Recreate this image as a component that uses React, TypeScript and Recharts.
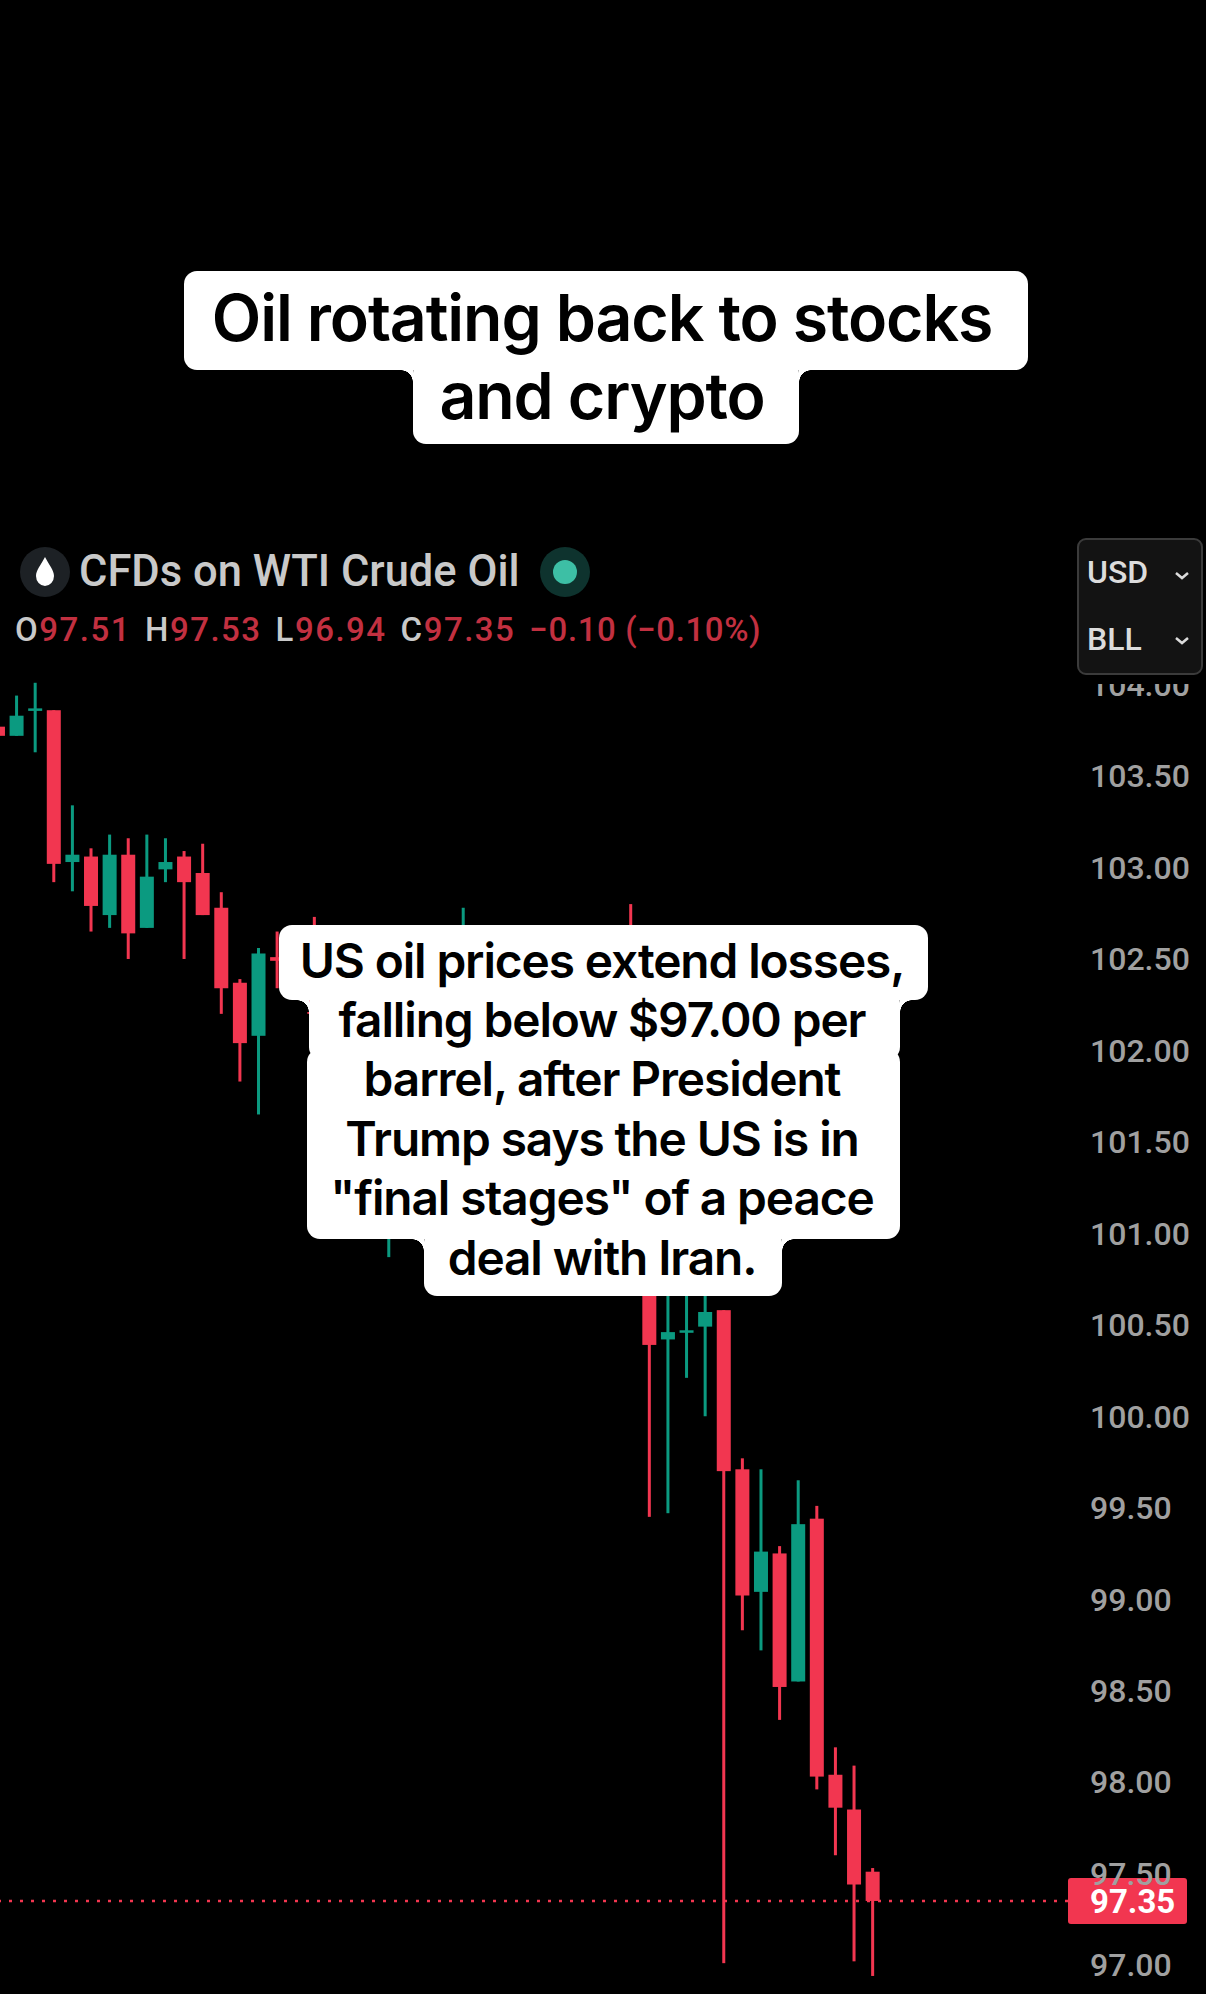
import { Bar, ComposedChart, ReferenceLine, XAxis, YAxis } from 'recharts';

// Candles 16-33 sit behind the caption; only those with a visible wick have values.
const opens = [103.77, 103.72, 103.86, 103.86, 103.03, 103.06, 102.74, 103.07, 102.67, 102.99, 103.06, 102.97, 102.78, 102.37, 102.08, 102.51, null, 102.35, null, null, null, 101.4, null, null, null, 101.7, null, null, null, null, null, null, null, null, 101.9, 101.1, 100.42, 100.46, 100.49, 100.58, 99.71, 99.04, 99.25, 98.55, 99.44, 98.04, 97.85, 97.51];
const highs = [103.78, 103.94, 104.01, 103.86, 103.34, 103.105, 103.18, 103.16, 103.18, 103.16, 103.09, 103.13, 102.865, 102.39, 102.56, 102.65, null, 102.73, null, null, null, 101.9, null, null, null, 102.78, null, null, null, null, null, null, null, null, 102.8, 101.2, 100.9, 100.85, 100.8, 100.58, 99.77, 99.71, 99.29, 99.65, 99.51, 98.19, 98.09, 97.53];
const lows = [103.71, 103.72, 103.63, 102.92, 102.87, 102.65, 102.67, 102.5, 102.67, 102.92, 102.5, 102.74, 102.2, 101.83, 101.65, 102.34, null, 101.9, null, null, null, 100.87, null, null, null, 101.4, null, null, null, null, null, null, null, null, 101.3, 99.45, 99.47, 100.21, 100.0, 97.01, 98.83, 98.72, 98.34, 98.55, 97.96, 97.6, 97.02, 96.94];
const closes = [103.72, 103.83, 103.87, 103.02, 103.07, 102.79, 103.07, 102.64, 102.95, 103.03, 102.92, 102.74, 102.34, 102.04, 102.53, 102.49, null, 102.2, null, null, null, 101.6, null, null, null, 101.9, null, null, null, null, null, null, null, null, 101.5, 100.39, 100.46, 100.47, 100.57, 99.7, 99.02, 99.26, 98.52, 99.41, 98.03, 97.86, 97.44, 97.35];
const priceTicks = [104, 103.5, 103, 102.5, 102, 101.5, 101, 100.5, 100, 99.5, 99, 98.5, 98, 97.5, 97];
const lastPrice = 97.35;
const emptySlots = 10;

const legendValues = [
  ['O', '97.51'],
  ['H', '97.53'],
  ['L', '96.94'],
  ['C', '97.35'],
];
const legendChange = '−0.10 (−0.10%)';

const RED = '#f23650';
const GREEN = '#0b9a80';

const candles = [...opens, ...Array(emptySlots).fill(null)].map((open, i) => ({
  bar: String(i),
  open,
  high: highs[i] ?? null,
  low: lows[i] ?? null,
  close: closes[i] ?? null,
}));

function Candle(props: any) {
  const { x, y, width, height, payload } = props;
  if (payload.open == null || payload.low == null) return null;
  const { open, high, low, close } = payload;
  const perUnit = Math.abs(height) / (high - low);
  const top = y + (high - Math.max(open, close)) * perUnit;
  const bodyH = Math.max(Math.abs(open - close) * perUnit, 2.5);
  const cx = x + width / 2;
  const fill = close >= open ? GREEN : RED;
  return (
    <g>
      <rect x={cx - 1.5} y={y} width={3} height={Math.abs(height)} fill={fill} />
      <rect x={cx - 7} y={top} width={14} height={bodyH} fill={fill} />
    </g>
  );
}

function PriceTag(props: any) {
  const { viewBox } = props;
  const right = viewBox.x + viewBox.width;
  return (
    <g>
      <rect x={right} y={viewBox.y - 23} width={119} height={46} rx={3} fill="#f23650" />
      <text x={right + 22} y={viewBox.y + 12} fill="#fff" fontFamily="Roboto" fontWeight={700} fontSize={33}>
        {lastPrice.toFixed(2)}
      </text>
    </g>
  );
}

const box = (left: number, right: number, top: number, bottom: number): React.CSSProperties => ({
  position: 'absolute',
  left,
  top,
  width: right - left,
  height: bottom - top,
  background: '#fff',
  borderRadius: 13,
});

const lineText = (left: number, right: number, center: number, size: number): React.CSSProperties => ({
  position: 'absolute',
  left,
  width: right - left,
  top: center - 40,
  height: 80,
  lineHeight: '80px',
  textAlign: 'center',
  whiteSpace: 'nowrap',
  color: '#000',
  fontFamily: 'Inter',
  fontWeight: 600,
  fontSize: size,
  letterSpacing: -1.1,
});

// small concave corner where a narrower caption row meets a wider one
function Notch({ x, y, side }: { x: number; y: number; side: 'left' | 'right' }) {
  const at = side === 'left' ? '0% 100%' : '100% 100%';
  return (
    <div
      style={{
        position: 'absolute',
        left: side === 'left' ? x - 12 : x,
        top: y,
        width: 12,
        height: 12,
        background: `radial-gradient(circle 12px at ${at}, #000 11.5px, #fff 12px)`,
      }}
    />
  );
}

const titleLines = ['Oil rotating back to stocks', 'and crypto'];
const captionLines = [
  'US oil prices extend losses,',
  'falling below $97.00 per',
  'barrel, after President',
  'Trump says the US is in',
  '"final stages" of a peace',
  'deal with Iran.',
];
const captionCenters = [961, 1020, 1079, 1139, 1198, 1258];

export default function App() {
  return (
    <div style={{ position: 'absolute', left: 0, top: 0, width: 1206, height: 1994, background: '#000', overflow: 'hidden' }}>
      <ComposedChart
        width={1206}
        height={1994}
        data={candles}
        margin={{ top: 674, right: 0, bottom: 0, left: -11.4 }}
        style={{ position: 'absolute', left: 0, top: 0 }}
      >
        <XAxis dataKey="bar" hide />
        <YAxis
          orientation="right"
          width={138}
          domain={[96.8414, 104.058]}
          ticks={priceTicks}
          interval={0}
          axisLine={false}
          tickLine={false}
          tickSize={0}
          tickMargin={22}
          tickFormatter={(v: number) => v.toFixed(2)}
          tick={{ fill: '#a0a0a0', fontFamily: 'Roboto', fontWeight: 500, fontSize: 32 }}
          allowDataOverflow
        />
        <ReferenceLine y={lastPrice} stroke={RED} strokeWidth={2.5} strokeDasharray="3 8" label={<PriceTag />} />
        <Bar
          dataKey={(d: any) => (d.low == null ? null : [d.low, d.high])}
          shape={<Candle />}
          isAnimationActive={false}
        />
      </ComposedChart>

      {/* title caption */}
      <div style={box(184, 1028, 271, 370)} />
      <div style={box(413, 799, 360, 444)} />
      <Notch x={413} y={370} side="left" />
      <Notch x={799} y={370} side="right" />
      <div style={lineText(180, 1024, 318, 64.4)}>{titleLines[0]}</div>
      <div style={lineText(409, 795, 396, 64.4)}>{titleLines[1]}</div>

      {/* headline caption */}
      <div style={box(279, 928, 925, 1000)} />
      <div style={box(309, 900, 990, 1060)} />
      <div style={box(307, 900, 1049, 1239)} />
      <div style={box(424, 782, 1229, 1296)} />
      <Notch x={309} y={1000} side="left" />
      <Notch x={900} y={1000} side="right" />
      <Notch x={424} y={1239} side="left" />
      <Notch x={782} y={1239} side="right" />
      {captionLines.map((line, i) => (
        <div key={line} style={lineText(199, 1005, captionCenters[i], 47.8)}>
          {line}
        </div>
      ))}

      {/* symbol header */}
      <svg width={620} height={60} style={{ position: 'absolute', left: 0, top: 542 }}>
        <circle cx={45} cy={30} r={25} fill="#1d2125" />
        <path d="M45 15 C49 23 54 28 54 34 A9 10 0 0 1 36 34 C36 28 41 23 45 15 Z" fill="#fff" />
        <circle cx={565} cy={30} r={25} fill="#0e332e" />
        <circle cx={565} cy={30} r={12} fill="#3dbfa5" />
      </svg>
      <div style={{ position: 'absolute', left: 79, top: 548, fontFamily: 'Roboto', fontWeight: 500, fontSize: 43.5, lineHeight: '48px', color: '#c9c9c9', whiteSpace: 'nowrap' }}>
        CFDs on WTI Crude Oil
      </div>
      <div style={{ position: 'absolute', left: 15, top: 610, fontFamily: 'Roboto', fontWeight: 500, fontSize: 33, lineHeight: '40px', letterSpacing: 1.5, color: '#c23040', whiteSpace: 'nowrap' }}>
        {legendValues.map(([k, v]) => (
          <span key={k} style={{ marginRight: 14 }}>
            <span style={{ color: '#c9c9c9' }}>{k}</span>
            {v}
          </span>
        ))}
        <span style={{ letterSpacing: 0.6 }}>{legendChange}</span>
      </div>

      {/* unit selector, with the strip that cuts the top tick */}
      <div style={{ position: 'absolute', left: 1077, top: 675, width: 129, height: 9, background: '#000' }} />
      <div style={{ position: 'absolute', left: 1077, top: 538, width: 126, height: 137, boxSizing: 'border-box', background: '#131313', border: '2px solid #3b3b3b', borderRadius: 9 }} />
      <div style={{ position: 'absolute', left: 1087, top: 552, fontFamily: 'Roboto', fontWeight: 500, fontSize: 32, lineHeight: '40px', color: '#dcdcdc' }}>USD</div>
      <div style={{ position: 'absolute', left: 1087, top: 619, fontFamily: 'Roboto', fontWeight: 500, fontSize: 32, lineHeight: '40px', color: '#dcdcdc' }}>BLL</div>
      <svg width={30} height={100} style={{ position: 'absolute', left: 1168, top: 560 }}>
        <path d="M8 13 L14 18 L20 13" stroke="#dcdcdc" strokeWidth={2.5} fill="none" />
        <path d="M8 78 L14 83 L20 78" stroke="#dcdcdc" strokeWidth={2.5} fill="none" />
      </svg>
    </div>
  );
}
